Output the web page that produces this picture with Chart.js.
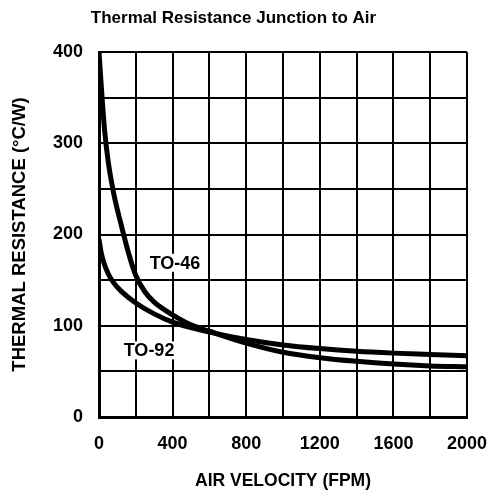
<!DOCTYPE html>
<html>
<head>
  <title>Thermal Resistance Junction to Air</title>
  <script src="https://cdn.jsdelivr.net/npm/chart.js"></script>
  <style>
    body { margin: 0; background: #fff; }
    canvas { display: block; }
  </style>
</head>
<body>
  <canvas id="chart" width="489" height="496"></canvas>

  <script>
    // values
    const to46Velocity = [0, 15, 30, 50, 80, 120, 160, 200, 250, 300, 400, 500, 600, 800, 1000, 1200, 1400, 1600, 1800, 2000];
    const to46Resistance = [400, 355, 315, 280, 245, 211, 180, 155, 137, 126, 112, 101, 94, 81, 71, 65, 61, 58, 56, 55];

    const to92Velocity = [0, 10, 25, 50, 80, 120, 200, 300, 400, 500, 600, 800, 1000, 1200, 1400, 1600, 1800, 2000];
    const to92Resistance = [195, 182, 170, 157, 147, 138, 125, 113, 104, 98, 93, 85, 79, 75, 72, 70, 68.5, 67];

    const curveLabels = [
      { text: 'TO-46', x: 413, y: 169 },
      { text: 'TO-92', x: 272, y: 73 }
    ];

    const sans = "'Liberation Sans', Arial, sans-serif";

    const toPoints = (xs, ys) => xs.map((x, i) => ({ x, y: ys[i] }));

    const curveLabelPlugin = {
      id: 'curveLabels',
      afterDatasetsDraw(chart) {
        const ctx = chart.ctx;
        const xs = chart.scales.x;
        const ys = chart.scales.y;
        ctx.save();
        ctx.font = 'bold 18px ' + sans;
        ctx.textAlign = 'center';
        ctx.textBaseline = 'middle';
        curveLabels.forEach(l => {
          const px = xs.getPixelForValue(l.x);
          const py = ys.getPixelForValue(l.y);
          const w = ctx.measureText(l.text).width;
          ctx.fillStyle = '#fff';
          ctx.fillRect(px - w / 2 - 2, py - 9, w + 4, 18);
          ctx.fillStyle = '#000';
          ctx.fillText(l.text, px, py + 1);
        });
        ctx.restore();
      }
    };

    const lineStyle = {
      showLine: true,
      borderColor: '#000',
      borderWidth: 5,
      pointRadius: 0,
      cubicInterpolationMode: 'monotone',
      fill: false
    };

    const tickFont = { family: sans, size: 18, weight: 'bold' };

    new Chart(document.getElementById('chart').getContext('2d'), {
      type: 'scatter',
      data: {
        datasets: [
          Object.assign({ label: 'TO-46', data: toPoints(to46Velocity, to46Resistance) }, lineStyle),
          Object.assign({ label: 'TO-92', data: toPoints(to92Velocity, to92Resistance) }, lineStyle)
        ]
      },
      options: {
        responsive: false,
        animation: false,
        devicePixelRatio: 1,
        layout: { padding: { top: 0, left: 0, right: 22, bottom: 0 } },
        scales: {
          x: {
            type: 'linear',
            min: 0,
            max: 2000,
            afterFit: s => { s.height = 79; s.paddingLeft = 0; s.paddingRight = 0; },
            grid: { color: '#000', lineWidth: 2, drawTicks: false },
            border: { color: '#000', width: 3 },
            ticks: {
              stepSize: 200,
              autoSkip: false,
              maxRotation: 0,
              padding: 16,
              color: '#000',
              font: tickFont,
              callback: v => (v % 400 === 0 ? String(v) : '')
            },
            title: {
              display: true,
              text: 'AIR VELOCITY (FPM)',
              color: '#000',
              font: { family: sans, size: 17.5, weight: 'bold' },
              padding: { top: 0, bottom: 4 }
            }
          },
          y: {
            type: 'linear',
            min: 0,
            max: 400,
            afterFit: s => { s.width = 99; s.paddingTop = 0; s.paddingBottom = 0; },
            grid: { color: '#000', lineWidth: 2, drawTicks: false },
            border: { color: '#000', width: 3 },
            ticks: {
              stepSize: 50,
              autoSkip: false,
              padding: 16,
              color: '#000',
              font: tickFont,
              callback: v => (v % 100 === 0 ? String(v) : '')
            },
            title: {
              display: true,
              text: 'THERMAL RESISTANCE (°C/W)',
              color: '#000',
              font: { family: sans, size: 18.5, weight: 'bold' },
              padding: { top: 9, bottom: 0 }
            }
          }
        },
        plugins: {
          legend: { display: false },
          tooltip: { enabled: false },
          title: {
            display: true,
            text: 'Thermal Resistance Junction to Air',
            color: '#000',
            font: { family: sans, size: 17, weight: 'bold' },
            padding: { top: 8, bottom: 23.6 }
          }
        }
      },
      plugins: [curveLabelPlugin]
    });
  </script>
</body>
</html>
